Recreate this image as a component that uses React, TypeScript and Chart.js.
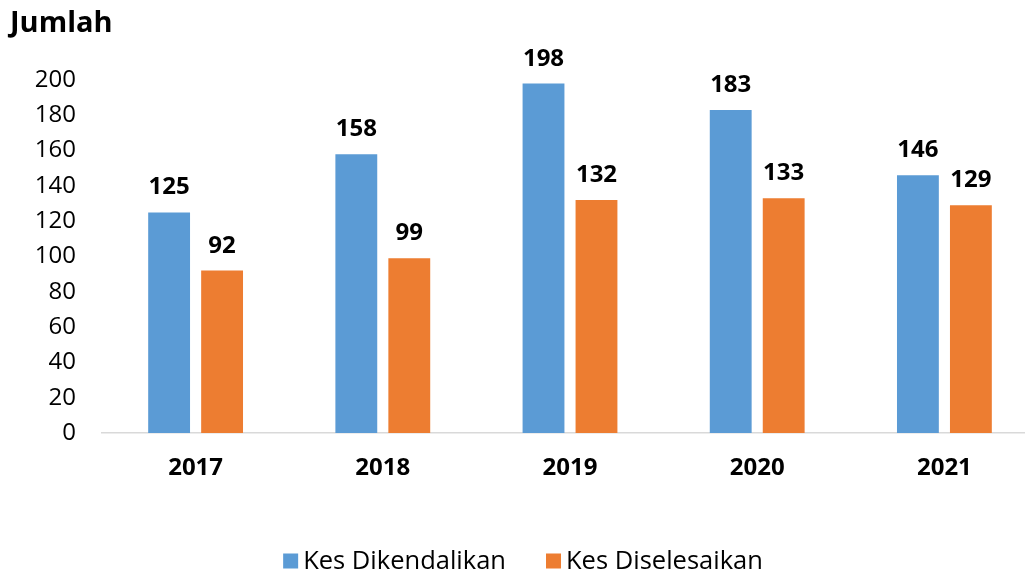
import React, { useEffect, useRef } from "react";
import { Chart, registerables } from "chart.js";

Chart.register(...registerables);

const categories = ["2017", "2018", "2019", "2020", "2021"];
const seriesNames = ["Kes Dikendalikan", "Kes Diselesaikan"];
const dikendalikan = [125, 158, 198, 183, 146];
const diselesaikan = [92, 99, 132, 133, 129];
const colors = ["#5B9BD5", "#ED7D31"];
const yTitle = "Jumlah";

const FONT = "'Open Sans', 'Noto Sans', sans-serif";

const valueLabels = {
  id: "valueLabels",
  afterDatasetsDraw(chart: any) {
    const ctx = chart.ctx;
    ctx.save();
    ctx.font = `bold 24px ${FONT}`;
    ctx.fillStyle = "#000";
    ctx.textAlign = "center";
    ctx.textBaseline = "alphabetic";
    chart.data.datasets.forEach((ds: any, i: number) => {
      const meta = chart.getDatasetMeta(i);
      meta.data.forEach((bar: any, j: number) => {
        ctx.fillText(String(ds.data[j]), bar.x, bar.y - 18);
      });
    });
    ctx.restore();
  },
};

const customLegend = {
  id: "customLegend",
  afterDraw(chart: any) {
    const ctx = chart.ctx;
    ctx.save();
    ctx.font = `25.5px ${FONT}`;
    ctx.textBaseline = "middle";
    ctx.textAlign = "left";
    const box = 15;
    const gap = 5;
    const itemGap = 40;
    const items = chart.data.datasets.map((ds: any) => ({
      text: ds.label,
      color: ds.backgroundColor,
      w: box + gap + ctx.measureText(ds.label).width,
    }));
    const total = items.reduce((s: number, it: any) => s + it.w, 0) + itemGap * (items.length - 1);
    let x = chart.width / 2 - total / 2;
    const cy = 561;
    items.forEach((it: any) => {
      ctx.fillStyle = it.color;
      ctx.fillRect(x, cy - box / 2, box, box);
      ctx.fillStyle = "#000";
      ctx.fillText(it.text, x + box + gap, cy + 1);
      x += it.w + itemGap;
    });
    ctx.restore();
  },
};

export default function App() {
  const ref = useRef<HTMLCanvasElement>(null);
  useEffect(() => {
    if (!ref.current) return;
    const chart = new Chart(ref.current, {
      type: "bar",
      data: {
        labels: categories,
        datasets: [
          {
            label: seriesNames[0],
            data: dikendalikan,
            backgroundColor: colors[0],
            barPercentage: 0.79,
            categoryPercentage: 0.566,
          },
          {
            label: seriesNames[1],
            data: diselesaikan,
            backgroundColor: colors[1],
            barPercentage: 0.79,
            categoryPercentage: 0.566,
          },
        ],
      },
      options: {
        responsive: false,
        animation: false,
        layout: { padding: { left: 10, right: 8, top: 0, bottom: 0 } },
        plugins: {
          legend: { display: false },
          tooltip: { enabled: false },
          title: {
            display: true,
            text: yTitle,
            align: "start",
            color: "#000",
            font: { family: FONT, size: 29, weight: "bold" },
            padding: { top: 6.5, bottom: 38.7 },
          },
        },
        scales: {
          x: {
            grid: { display: false, drawTicks: false },
            border: { display: true, color: "#d9d9d9", width: 1.5 },
            ticks: {
              color: "#000",
              font: { family: FONT, size: 24, weight: "bold" },
              padding: 21,
            },
            afterFit: (s: any) => {
              s.height = 144;
            },
          },
          y: {
            min: 0,
            max: 200,
            grid: { display: false, drawTicks: false },
            border: { display: false },
            ticks: {
              stepSize: 20,
              color: "#000",
              font: { family: FONT, size: 24 },
              padding: 26,
            },
            afterFit: (s: any) => {
              s.width = 92;
            },
          },
        },
      },
      plugins: [valueLabels, customLegend],
    });
    return () => chart.destroy();
  }, []);
  return (
    <div style={{ position: "fixed", left: 0, top: 0, width: 1025, height: 577, overflow: "hidden", background: "#fff" }}>
      <canvas ref={ref} width={1046} height={577} style={{ width: 1046, height: 577, display: "block" }} />
    </div>
  );
}
